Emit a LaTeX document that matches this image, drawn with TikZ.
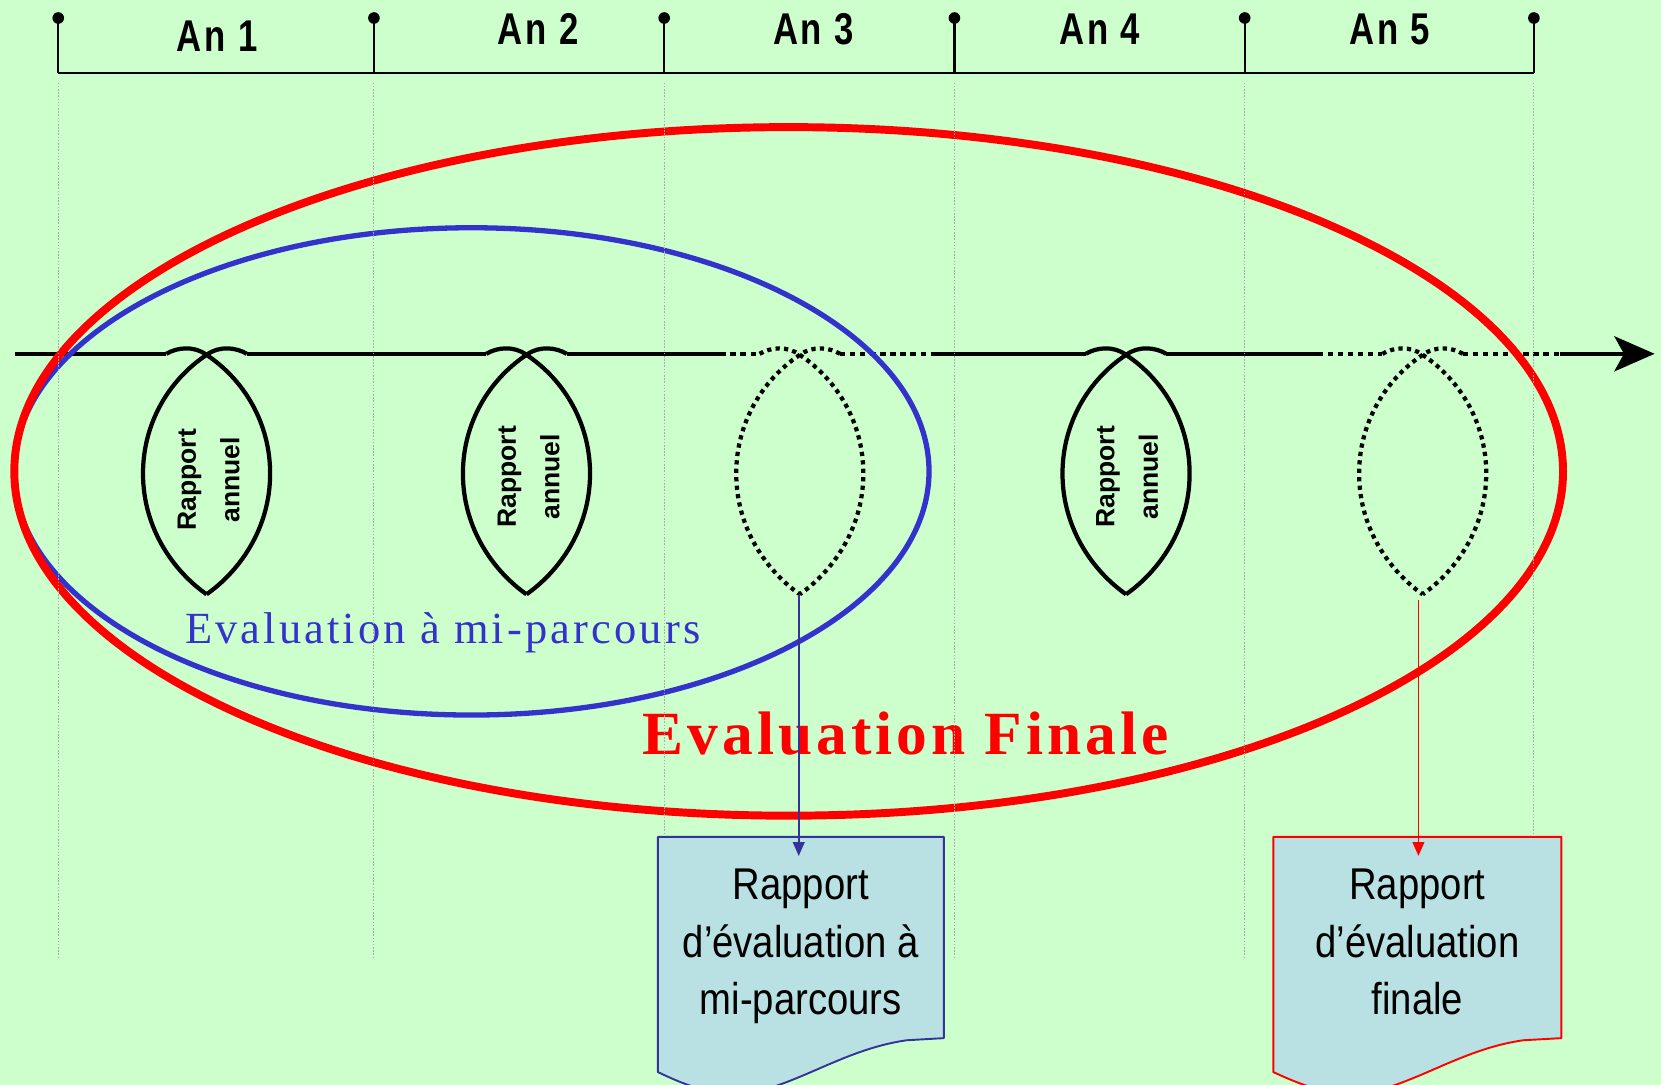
\documentclass[tikz,border=0pt]{standalone}
\usepackage{fontspec}
\usetikzlibrary{arrows.meta}
\setmainfont{Liberation Serif}
\newfontfamily\anfont[FakeStretch=0.78,LetterSpace=6]{Liberation Sans}
\newfontfamily\rafont{Liberation Sans}
\newfontfamily\boxfont[FakeStretch=0.86]{Liberation Sans}
\newfontfamily\evfont[LetterSpace=7]{Liberation Serif}
\newfontfamily\effont[LetterSpace=6.5]{Liberation Serif}
\definecolor{bgg}{RGB}{204,255,204}
\definecolor{bleu}{RGB}{51,51,204}
\definecolor{docblue}{RGB}{51,51,153}
\definecolor{rouge}{RGB}{255,0,0}
\definecolor{boxfill}{RGB}{185,224,226}
\definecolor{grille}{RGB}{170,170,170}
\newcommand{\lensat}[2]{%
  \draw[#2] ({#1-38},334) .. controls ({#1-28},328) and ({#1-12},326) .. ({#1},335)
     .. controls ({#1+36},359) and ({#1+60},400) .. ({#1+60},447)
     .. controls ({#1+60},500) and ({#1+30},540) .. ({#1},561);
  \draw[#2] ({#1+38},334) .. controls ({#1+28},328) and ({#1+12},326) .. ({#1},335)
     .. controls ({#1-36},359) and ({#1-60},400) .. ({#1-60},447)
     .. controls ({#1-60},500) and ({#1-30},540) .. ({#1},561);
}
\tikzset{
  axisline/.style={line width=4.2pt,black},
  axisdot/.style={line width=4.2pt,black,dash pattern=on 5pt off 4.5pt},
  lensline/.style={line width=4pt,black,line join=round},
  lensdot/.style={line width=4pt,black,dash pattern=on 4pt off 4pt},
  grid line/.style={grille,line width=1pt,dash pattern=on 1.5pt off 1.5pt},
  yearlabel/.style={inner sep=0pt,anchor=base,font=\anfont\bfseries\fontsize{42}{42}\selectfont},
  rapport/.style={inner sep=0pt,rotate=90,align=center,font=\rafont\bfseries\fontsize{25}{41}\selectfont},
  doctext/.style={inner sep=0pt,align=center,anchor=base,font=\boxfont\fontsize{42}{54.5}\selectfont},
  docshape/.style={fill=boxfill,line width=1.8pt,line join=round},
  thinarrow/.style={line width=1.6pt,-{Triangle[length=13pt,width=11pt]}},
}
\begin{document}
\begin{tikzpicture}[x=1pt,y=-1pt]
\useasboundingbox (0,0) rectangle (1568,1024);
\fill[bgg] (0,0) rectangle (1568,1024);

% timeline
\foreach \x in {55,353,627,901,1175,1448}{
  \fill (\x,17) circle (5.5);
  \draw[line width=2pt] (\x,17) -- (\x,69);
}
\draw[line width=2pt] (55,69) -- (1448,69);
\node[yearlabel] (an1) at (205,49) {An 1};
\node[yearlabel] (an2) at (508,42) {An 2};
\node[yearlabel] (an3) at (768,42) {An 3};
\node[yearlabel] (an4) at (1038,42) {An 4};
\node[yearlabel] (an5) at (1312,42) {An 5};

% axis
\draw[axisline] (14,334) -- (157,334);
\draw[axisline] (233,334) -- (459,334);
\draw[axisline] (535,334) -- (680,334);
\draw[axisdot] (680,334) -- (717,334);
\draw[axisdot] (793,334) -- (883,334);
\draw[axisline] (883,334) -- (1025,334);
\draw[axisline] (1101,334) -- (1244,334);
\draw[axisdot] (1244,334) -- (1305,334);
\draw[axisdot] (1381,334) -- (1473,334);
\coordinate (axstart) at (1473,334);
\coordinate (axend) at (1562,334);
\draw[axisline,-{Stealth[length=38pt,width=33pt,inset=9pt]}] (axstart) -- (axend);

% lenses
\lensat{195}{lensline}
\lensat{497}{lensline}
\lensat{755}{lensdot}
\lensat{1063}{lensline}
\lensat{1343}{lensdot}
\node[rapport] (ra1) at (197,453) {Rapport\\annuel};
\node[rapport] (ra2) at (499,450) {Rapport\\annuel};
\node[rapport] (ra4) at (1064,450) {Rapport\\annuel};

% ellipses
\draw[bleu,line width=5pt] (445,445) ellipse [x radius=432, y radius=230];
\draw[rouge,line width=7.5pt] (744.5,445) ellipse [x radius=731, y radius=325];

\node[inner sep=0pt,anchor=base,text=bleu,font=\evfont\fontsize{42}{42}\selectfont] (mid) at (418,607) {Evaluation à mi-parcours};
\node[inner sep=0pt,anchor=base,text=rouge,font=\effont\bfseries\fontsize{58}{58}\selectfont] (fin) at (855,712) {Evaluation Finale};

% grid lines
\foreach \x in {55,353,627,901,1175,1448}{
  \draw[grid line] (\x,78) -- (\x,904);
}

% documents
\draw[docshape,draw=docblue] (621,790) -- (891,790) -- (891,980) -- (856,982)
  .. controls (800,990) and (760,1020) .. (712,1031)
  .. controls (680,1037) and (650,1026) .. (621,1012) -- cycle;
\draw[docshape,draw=rouge] (1202,790) -- (1474,790) -- (1474,980) -- (1438,982)
  .. controls (1382,990) and (1342,1020) .. (1294,1031)
  .. controls (1262,1037) and (1232,1026) .. (1202,1012) -- cycle;
\node[doctext] (doc1) at (756,958) {Rapport\\d’évaluation à\\mi-parcours};
\node[doctext] (doc2) at (1338,958) {Rapport\\d’évaluation\\finale};

% arrows
\coordinate (l3bot) at (754,562);
\coordinate (d1top) at (754,808);
\coordinate (l5bot) at (1339,566);
\coordinate (d2top) at (1339,808);
\draw[thinarrow,docblue] (l3bot) -- (d1top);
\draw[thinarrow,rouge] (l5bot) -- (d2top);
\end{tikzpicture}
\end{document}
